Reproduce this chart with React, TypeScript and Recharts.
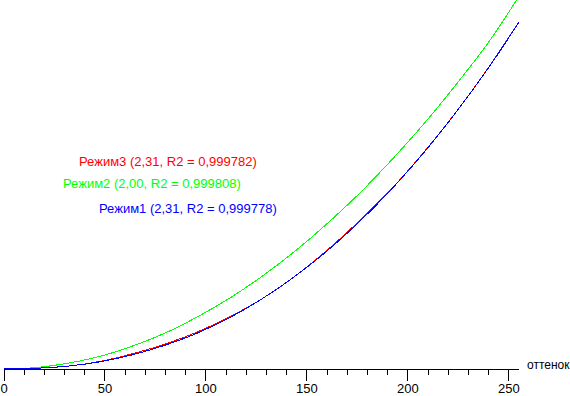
import React from 'react';
import { LineChart, Line, XAxis, YAxis } from 'recharts';

// brightness level (0..255) on the x axis
const levels = [0, 16, 32, 48, 64, 80, 96, 112, 128, 144, 160, 176, 192, 208, 224, 240, 255];
// relative luminance (100 = top of plot)
const mode1 = [0, 0.2, 0.8, 2.0, 3.9, 6.5, 9.8, 14.0, 19.1, 25.1, 32.0, 39.9, 48.8, 58.7, 69.7, 81.7, 94.0];
const mode2 = [0, 0.4, 1.6, 3.5, 6.3, 9.8, 14.2, 19.3, 25.2, 31.9, 39.4, 47.6, 56.7, 66.5, 77.2, 88.6, 101.0];
const mode3 = [0, 0.2, 0.8, 2.1, 4.2, 6.8, 10.1, 14.2, 19.1, 25.1, 32.2, 40.2, 48.9, 58.8, 69.7, 81.8, 94.1];

const xTicks = [0, 10, 20, 30, 40, 50, 60, 70, 80, 90, 100, 110, 120, 130, 140, 150, 160, 170, 180, 190, 200, 210, 220, 230, 240, 250];

const labels = [
  { text: 'Режим3 (2,31, R2 = 0,999782)', color: '#ff0000', left: 79, top: 155 },
  { text: 'Режим2 (2,00, R2 = 0,999808)', color: '#00ff00', left: 63, top: 177 },
  { text: 'Режим1 (2,31, R2 = 0,999778)', color: '#0000ff', left: 99, top: 202 },
];

const data = levels.map((lv, i) => ({ lv, m1: mode1[i], m2: mode2[i], m3: mode3[i] }));

const AxisTick = ({ x, y, payload }: any) => {
  const major = payload.value % 50 === 0;
  return (
    <g>
      <line x1={x} x2={x} y1={y} y2={y + (major ? 12 : 6)} stroke="#000" shapeRendering="crispEdges" />
      {major && (
        <text x={x} y={y + 24} textAnchor="middle" fontSize={13} fill="#000" fontFamily="'Liberation Sans', Arial, sans-serif">
          {payload.value}
        </text>
      )}
    </g>
  );
};

export default function App() {
  return (
    <div style={{ position: 'absolute', left: 0, top: 0, width: 570, height: 396, background: '#fff', fontFamily: "'Liberation Sans', Arial, sans-serif" }}>
      <LineChart width={570} height={396} data={data} margin={{ top: 0, right: 51, left: 4, bottom: 0 }}>
        <XAxis
          dataKey="lv"
          type="number"
          domain={[0, 255]}
          ticks={xTicks}
          interval={0}
          height={27}
          tickSize={0}
          tickMargin={0}
          tickLine={false}
          tick={<AxisTick />}
          axisLine={{ stroke: '#000', shapeRendering: 'crispEdges' }}
        />
        <YAxis hide domain={[0, 100]} allowDataOverflow />
        <Line type="monotone" dataKey="m2" stroke="#00ff00" strokeWidth={1} dot={false} shapeRendering="crispEdges" isAnimationActive={false} />
        <Line type="monotone" dataKey="m3" stroke="#ff0000" strokeWidth={1} dot={false} shapeRendering="crispEdges" isAnimationActive={false} />
        <Line type="monotone" dataKey="m1" stroke="#0000ff" strokeWidth={1} dot={false} shapeRendering="crispEdges" isAnimationActive={false} />
      </LineChart>
      {labels.map(l => (
        <div key={l.text} style={{ position: 'absolute', left: l.left, top: l.top, color: l.color, fontSize: 13, lineHeight: 1, whiteSpace: 'nowrap' }}>
          {l.text}
        </div>
      ))}
      <div style={{ position: 'absolute', left: 527, top: 359, fontSize: 12, lineHeight: 1, whiteSpace: 'nowrap' }}>оттенок</div>
    </div>
  );
}
